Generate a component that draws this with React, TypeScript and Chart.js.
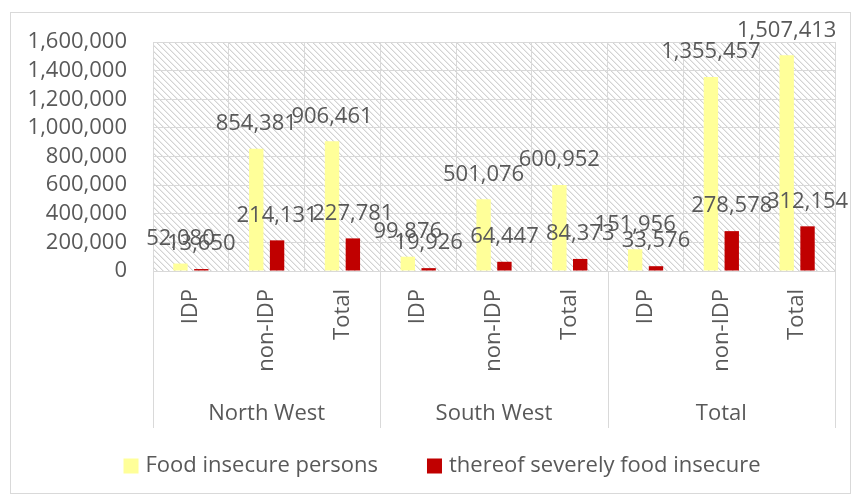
import React, { useEffect, useRef } from 'react';
import { Chart, registerables } from 'chart.js';

Chart.register(...registerables);

const groups = ['North West', 'South West', 'Total'];
const subCategories = ['IDP', 'non-IDP', 'Total'];
const categories = groups.flatMap(() => subCategories);
const foodInsecure = [52080, 854381, 906461, 99876, 501076, 600952, 151956, 1355457, 1507413];
const severelyInsecure = [13650, 214131, 227781, 19926, 64447, 84373, 33576, 278578, 312154];
const seriesNames = ['Food insecure persons', 'thereof severely food insecure'];
const yMin = 0;
const yMax = 1600000;
const yStep = 200000;

const FONT = "'Open Sans', 'Noto Sans', sans-serif";
const TEXT = '#595959';
const GRID = '#d9d9d9';
const YELLOW = '#ffff99';
const RED = '#c00000';

const fmt = (v: number) => Number(v).toLocaleString('en-US');

function makeHatch(ctx: CanvasRenderingContext2D) {
  const n = 6;
  const c = document.createElement('canvas');
  c.width = n;
  c.height = n;
  const g = c.getContext('2d')!;
  g.fillStyle = '#ffffff';
  g.fillRect(0, 0, n, n);
  for (let i = 0; i < n; i++) {
    g.fillStyle = '#d3d3d3';
    g.fillRect(i, i, 1, 1);
    g.fillStyle = '#ececec';
    g.fillRect((i + 1) % n, i, 1, 1);
  }
  return ctx.createPattern(c, 'repeat');
}

const decorPlugin = {
  id: 'decor',
  beforeDraw(chart: any) {
    const { ctx, chartArea } = chart;
    ctx.save();
    ctx.fillStyle = '#ffffff';
    ctx.fillRect(0, 0, chart.width, chart.height);
    ctx.strokeStyle = GRID;
    ctx.lineWidth = 1;
    ctx.strokeRect(10.5, 12.5, chart.width - 15, chart.height - 17);
    const pat = makeHatch(ctx);
    if (pat) {
      ctx.fillStyle = pat;
      ctx.fillRect(chartArea.left, chartArea.top, chartArea.right - chartArea.left, chartArea.bottom - chartArea.top);
    }
    ctx.restore();
  },
  afterDatasetsDraw(chart: any) {
    const { ctx } = chart;
    ctx.save();
    ctx.font = `22px ${FONT}`;
    ctx.fillStyle = TEXT;
    ctx.textAlign = 'center';
    ctx.textBaseline = 'middle';
    chart.data.datasets.forEach((ds: any, di: number) => {
      const meta = chart.getDatasetMeta(di);
      meta.data.forEach((el: any, i: number) => {
        ctx.fillText(fmt(ds.data[i]), el.x, el.y - 25);
      });
    });
    ctx.restore();
  },
  afterDraw(chart: any) {
    const { ctx, chartArea } = chart;
    const xs = chart.scales.x;
    const per = subCategories.length;
    ctx.save();
    ctx.strokeStyle = GRID;
    ctx.lineWidth = 1;
    for (let g = 0; g <= groups.length; g++) {
      let px;
      if (g === 0) px = chartArea.left;
      else if (g === groups.length) px = chartArea.right;
      else px = (xs.getPixelForValue(g * per - 1) + xs.getPixelForValue(g * per)) / 2;
      px = Math.round(px) + 0.5;
      ctx.beginPath();
      ctx.moveTo(px, chartArea.bottom);
      ctx.lineTo(px, chartArea.bottom + 157);
      ctx.stroke();
    }
    ctx.font = `22px ${FONT}`;
    ctx.fillStyle = TEXT;
    ctx.textAlign = 'center';
    ctx.textBaseline = 'middle';
    groups.forEach((name, g) => {
      const cx = (xs.getPixelForValue(g * per) + xs.getPixelForValue(g * per + per - 1)) / 2;
      ctx.fillText(name, cx, chartArea.bottom + 143);
    });
    // legend
    const items = chart.data.datasets.map((ds: any) => ({ label: ds.label, color: ds.backgroundColor }));
    const box = 15;
    const gapText = 7;
    const gapItem = 49;
    ctx.font = `22px ${FONT}`;
    const widths = items.map((it: any) => box + gapText + ctx.measureText(it.label).width);
    const total = widths.reduce((a: number, b: number) => a + b, 0) + gapItem * (items.length - 1);
    let x = 442 - total / 2;
    const ly = 466;
    ctx.textAlign = 'left';
    items.forEach((it: any, i: number) => {
      ctx.fillStyle = it.color;
      ctx.fillRect(x, ly - box / 2, box, box);
      ctx.fillStyle = TEXT;
      ctx.fillText(it.label, x + box + gapText, ly);
      x += widths[i] + gapItem;
    });
    ctx.restore();
  },
};

export default function App() {
  const ref = useRef<HTMLCanvasElement | null>(null);
  useEffect(() => {
    if (!ref.current) return;
    const chart = new Chart(ref.current, {
      type: 'bar',
      data: {
        labels: categories,
        datasets: [
          { label: seriesNames[0], data: foodInsecure, backgroundColor: YELLOW, categoryPercentage: 0.55, barPercentage: 0.69 },
          { label: seriesNames[1], data: severelyInsecure, backgroundColor: RED, categoryPercentage: 0.55, barPercentage: 0.69 },
        ],
      },
      options: {
        animation: false,
        responsive: false,
        layout: { padding: { left: 10, right: 20, top: 42, bottom: 0 } },
        plugins: { legend: { display: false }, tooltip: { enabled: false } },
        scales: {
          x: {
            grid: { color: GRID, lineWidth: 1, drawTicks: false, offset: true },
            border: { color: GRID },
            ticks: {
              minRotation: 90,
              maxRotation: 90,
              autoSkip: false,
              padding: 18,
              color: TEXT,
              font: { family: FONT, size: 22 },
            },
            afterFit: (s: any) => {
              s.height = 227;
            },
          },
          y: {
            min: yMin,
            max: yMax,
            ticks: {
              stepSize: yStep,
              autoSkip: false,
              padding: 26,
              color: TEXT,
              font: { family: FONT, size: 22 },
              callback: (v: any) => fmt(v),
            },
            grid: { color: GRID, lineWidth: 1, drawTicks: false },
            border: { color: GRID },
            afterFit: (s: any) => {
              s.width = 143;
            },
          },
        },
      },
      plugins: [decorPlugin],
    });
    return () => chart.destroy();
  }, []);
  return (
    <div style={{ position: 'absolute', left: 0, top: 0, width: 855, height: 498, background: '#fff' }}>
      <canvas ref={ref} width={855} height={498} style={{ display: 'block' }} />
    </div>
  );
}
